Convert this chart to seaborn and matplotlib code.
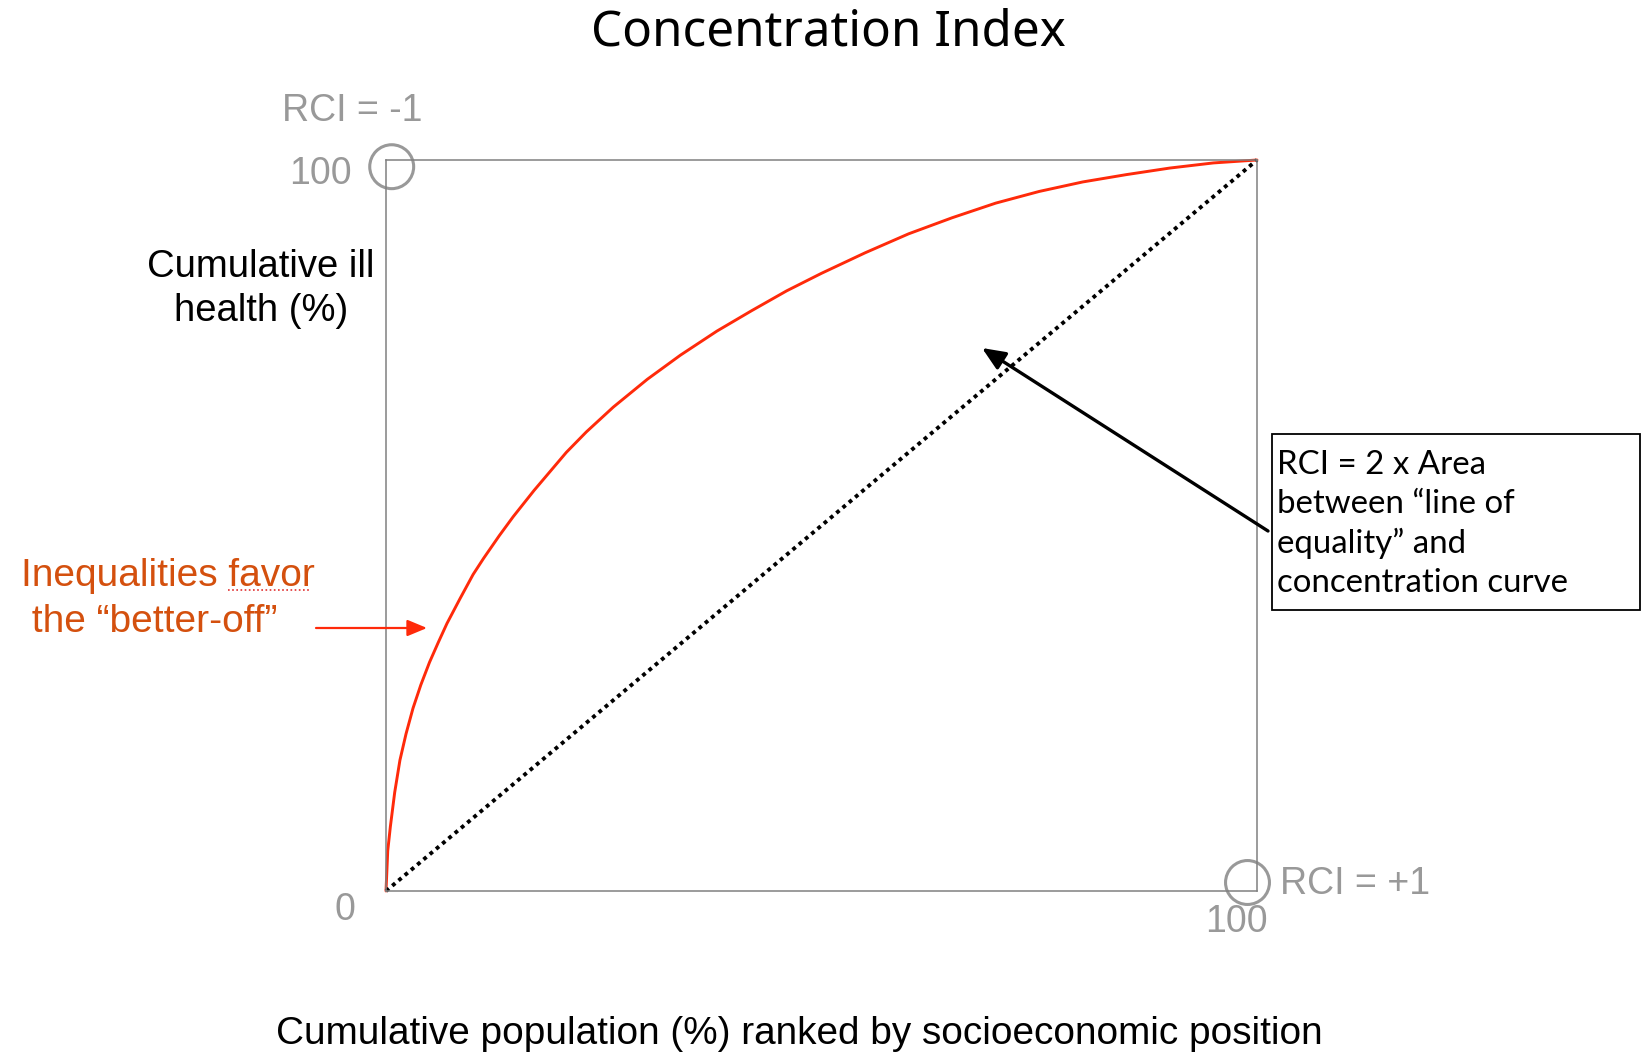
"""Concentration index sketch: concentration curve vs line of equality"""

import matplotlib

matplotlib.use("Agg")
import matplotlib.pyplot as plt
import matplotlib.transforms as mtransforms
import seaborn as sns
from matplotlib.lines import Line2D
from matplotlib.patches import Rectangle

# concentration curve (% of population, % of ill health)
pop_share = [0, 0.2, 0.5, 1, 1.6, 2.3, 3.1, 4, 5, 6, 7, 8.5, 10, 11.2, 13,
             14.6, 17, 20.7, 23, 26.1, 30, 33.8, 38, 42, 46, 50, 55, 60, 65,
             70, 75, 80, 85, 90, 95, 100]
ill_share = [0, 5.5, 8.8, 13.5, 17.9, 21.5, 25.0, 28.2, 31.3, 34.0, 36.6,
             40.0, 43.3, 45.5, 48.6, 51.2, 54.8, 60.0, 62.8, 66.2, 70.0, 73.3,
             76.6, 79.4, 82.1, 84.5, 87.3, 89.9, 92.1, 94.1, 95.7, 97.0, 98.0,
             98.9, 99.6, 100]

# line of equality
equal_x = [0, 100]
equal_y = [0, 100]

# the two extreme RCI corners
extreme_x = [0, 100]
extreme_y = [100, 0]
extreme_labels = ["RCI = -1", "RCI = +1"]

axis_min_label = "0"
axis_max_label = "100"

W, H = 1648, 1053
GREY = "#999999"
RED = "#ff2a0a"
ORANGE = "#d4500e"


def fx(px):
    return px / W


def fy(py):
    return 1 - py / H


sns.set_style("white")
plt.rcParams["font.family"] = ["Liberation Sans", "DejaVu Sans"]
plt.rcParams["text.color"] = "black"

fig = plt.figure(figsize=(W / 100, H / 100), dpi=100)
ax = fig.add_axes([fx(386), fy(891), (1257 - 386) / W, (891 - 160) / H])

sns.lineplot(x=pop_share, y=ill_share, sort=False, estimator=None,
             color=RED, linewidth=2.1, ax=ax)
sns.lineplot(x=equal_x, y=equal_y, estimator=None, color="black",
             linewidth=2.8, linestyle=(0, (1, 1.1)), ax=ax)

# grey rings sit slightly inside the corners (offset in pixels)
ring_shift = [(5.7, -6.7), (-9.5, 8.5)]
for (cx, cy), (dx, dy) in zip(zip(extreme_x, extreme_y), ring_shift):
    n = len(ax.collections)
    sns.scatterplot(x=[cx], y=[cy], s=1000, marker="o", facecolor="none",
                    edgecolor=GREY, linewidth=2.2, ax=ax)
    coll = ax.collections[n]
    coll.set_offset_transform(ax.transData + mtransforms.Affine2D().translate(dx, dy))
    coll.set_clip_on(False)
for ln in ax.lines:
    ln.set_clip_on(False)

ax.set_xlim(0, 100)
ax.set_ylim(0, 100)
ax.set_xticks([])
ax.set_yticks([])
for sp in ax.spines.values():
    sp.set_color("#808080")
    sp.set_linewidth(1.1)

# title and axis texts
fig.text(fx(828), fy(33), "Concentration Index", ha="center", va="center",
         fontsize=35.5, family="Noto Sans")
fig.text(fx(799), fy(1034), "Cumulative population (%) ranked by socioeconomic position",
         ha="center", va="center", fontsize=27.9)
fig.text(fx(261), fy(289), "Cumulative ill\nhealth (%)", ha="center",
         va="center", fontsize=27.5, linespacing=1.3)

# corner labels
fig.text(fx(282), fy(111), extreme_labels[0], ha="left", va="center",
         fontsize=27, color=GREY)
fig.text(fx(1280), fy(884), extreme_labels[1], ha="left", va="center",
         fontsize=27, color=GREY)
fig.text(fx(352), fy(174), axis_max_label, ha="right", va="center",
         fontsize=27, color=GREY)
fig.text(fx(345), fy(910), axis_min_label, ha="center", va="center",
         fontsize=27, color=GREY)
fig.text(fx(1236), fy(922), axis_max_label, ha="center", va="center",
         fontsize=27, color=GREY)

# "better-off" note with its arrow
fig.text(fx(21), fy(599), "Inequalities favor\n the \u201cbetter-off\u201d",
         ha="left", va="center", fontsize=28, color=ORANGE, linespacing=1.36)
fig.add_artist(Line2D([fx(228), fx(310)], [fy(590), fy(590)], color="#e03030",
                      linewidth=1.2, linestyle=(0, (1, 1.5))))
ax.annotate("", xy=(fx(427), fy(628)), xytext=(fx(316), fy(628)),
            xycoords="figure fraction", textcoords="figure fraction",
            arrowprops=dict(arrowstyle="-|>,head_length=0.6,head_width=0.25",
                            color=RED, linewidth=1.6, mutation_scale=20,
                            shrinkA=0, shrinkB=0))

# RCI definition box with its arrow
fig.add_artist(Rectangle((fx(1272), fy(610)), (1640 - 1272) / W, (610 - 434) / H,
                         transform=fig.transFigure, facecolor="white",
                         edgecolor="black", linewidth=1.3))
fig.text(fx(1277), fy(524),
         "RCI = 2 x Area\nbetween \u201cline of\nequality\u201d and\nconcentration curve",
         ha="left", va="center", fontsize=23.8, family="Lato", linespacing=1.36)
ax.annotate("", xy=(fx(982), fy(348)), xytext=(fx(1268), fy(531)),
            xycoords="figure fraction", textcoords="figure fraction",
            arrowprops=dict(arrowstyle="-|>,head_length=0.7,head_width=0.3",
                            color="black", linewidth=2.4, mutation_scale=20,
                            shrinkA=0, shrinkB=0))

fig.savefig("out.png", dpi=100)
